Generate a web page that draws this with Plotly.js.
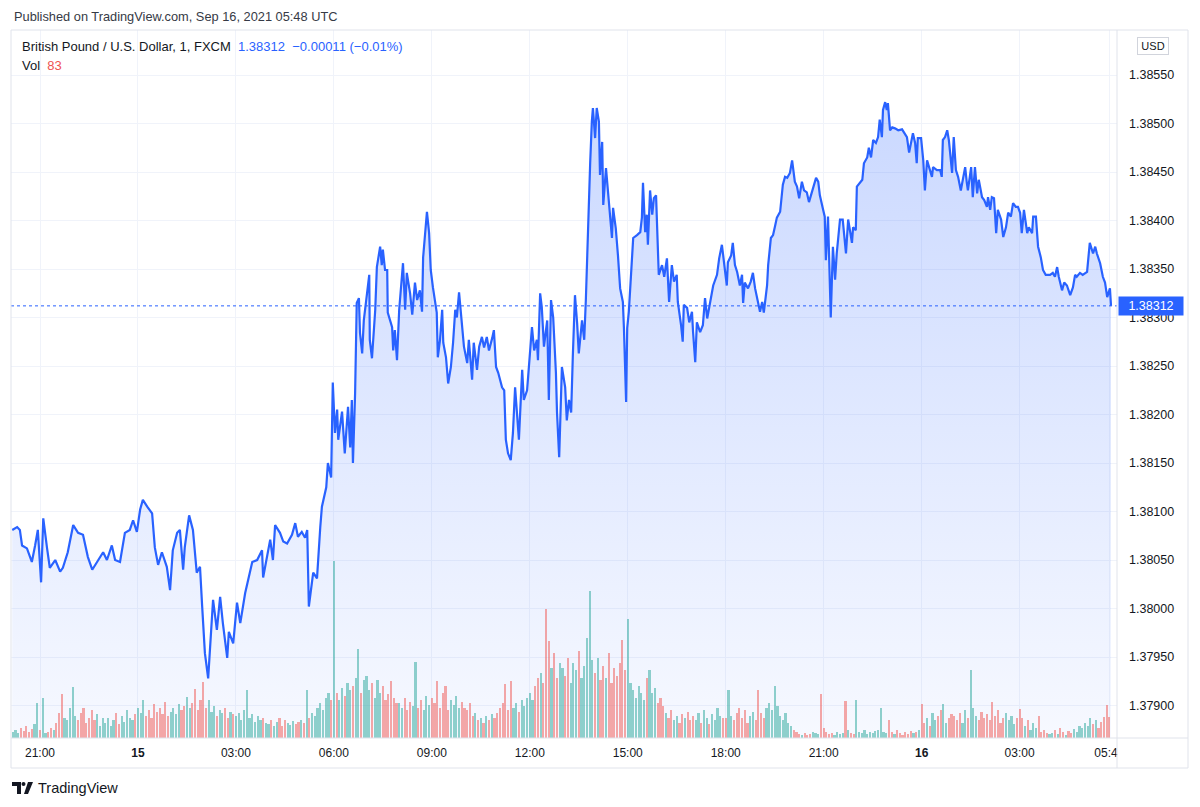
<!DOCTYPE html>
<html>
<head>
<meta charset="utf-8">
<script src="https://cdn.plot.ly/plotly-3.0.1.min.js"></script>
<style>
  html, body { margin: 0; padding: 0; background: #fff; }
  #chart { width: 1200px; height: 807px; }
</style>
</head>
<body>
<div id="chart"></div>
<script>
// GBP/USD 1-minute, FXCM — minutes counted from 2021-09-14 20:00 UTC
const baseTime = Date.UTC(2021, 8, 14, 20, 0);

const priceMinutes = [
  9, 18, 23, 27, 36, 45, 51, 56, 62, 66, 73, 78, 88, 97, 102, 111, 121, 130, 139, 148,
  156, 165, 176, 183, 192, 198, 207, 216, 225, 231, 238, 244, 249, 257, 266, 271, 277, 284, 293, 299,
  304, 312, 317, 323, 326, 334, 341, 348, 354, 358, 363, 369, 372, 378, 385, 391, 396, 404, 407, 415,
  422, 428, 437, 442, 450, 459, 468, 470, 477, 483, 488, 492, 501, 507, 514, 523, 529, 534, 541, 547,
  551, 554, 562, 569, 575, 578, 586, 589, 595, 598,
  602, 606, 608, 615, 620, 626, 630, 633, 635, 639, 642, 646, 648, 652, 655, 661, 665, 666, 670, 676,
  679, 685, 688, 690, 694, 698, 699, 707, 709, 712, 716, 720, 725, 727, 731, 734, 740, 744, 749, 753,
  758, 762, 764, 767, 771, 775, 778, 782, 786, 789, 791, 795, 799, 801, 806, 810, 815, 819, 823, 826,
  830, 835, 839, 845, 848, 854, 857, 863, 867, 872, 876, 881, 885, 891, 894, 898, 902, 909, 913, 916,
  920, 925, 929, 933, 936, 940, 946, 949, 955, 959, 964, 968, 973, 975, 979, 982, 986, 992, 995, 999,
  1003, 1008, 1010, 1014, 1019, 1025, 1028, 1032, 1036, 1039, 1043, 1047, 1050, 1056, 1060, 1063, 1067,
  1069, 1071, 1074, 1076, 1080, 1083, 1087, 1089, 1093, 1095, 1100, 1104, 1111, 1113, 1118, 1122, 1126, 1131, 1133, 1137,
  1139, 1142, 1148, 1150, 1157, 1163, 1166, 1168, 1172, 1175, 1177, 1181, 1185, 1188, 1192, 1194, 1197, 1203, 1207, 1212,
  1216, 1221, 1225, 1230, 1232, 1238, 1241, 1243, 1249, 1253, 1258, 1260, 1264, 1267, 1273, 1278, 1282, 1286, 1291, 1297,
  1304, 1308, 1313, 1317, 1322, 1324, 1330, 1333, 1337, 1341, 1346, 1350, 1352, 1355, 1361, 1366, 1370, 1374, 1377, 1383,
  1387, 1390, 1396, 1398, 1403, 1407, 1411, 1414, 1420, 1425, 1429, 1433, 1438, 1442, 1447, 1451, 1455, 1460, 1464, 1469,
  1473, 1477, 1480, 1486, 1490, 1493, 1499, 1502, 1504, 1508, 1513, 1517, 1521, 1524, 1530,
  1535, 1541, 1545, 1552, 1554, 1559, 1561, 1571, 1574, 1580, 1583, 1587, 1591, 1596, 1600, 1603, 1607, 1609, 1613, 1616,
  1618, 1622, 1626, 1631, 1637, 1644, 1648, 1653, 1657, 1662, 1664, 1668, 1671, 1673, 1679, 1683, 1686, 1690, 1695, 1699,
  1701, 1708, 1714, 1717, 1719, 1723, 1727, 1730, 1736, 1739, 1743, 1747, 1752, 1756, 1760, 1763, 1765, 1771, 1774, 1778,
  1782, 1785, 1791, 1795, 1800, 1802, 1806, 1809, 1813, 1817, 1820, 1826, 1830, 1835, 1839, 1844, 1848, 1853, 1857, 1861,
  1864, 1868, 1874, 1877, 1883, 1885, 1890, 1894, 1899, 1903, 1908, 1916, 1921, 1925, 1929, 1932, 1938, 1942, 1947, 1953,
  1958, 1962, 1965, 1971, 1976, 1984, 1986, 1989, 1995, 1999, 2002, 2008, 2013, 2017, 2021, 2026, 2028
];

const priceValues = [
  1.38081, 1.38084, 1.38081, 1.38065, 1.38062, 1.38048, 1.38065, 1.38081, 1.38027, 1.38093,
  1.38062, 1.38042, 1.38050, 1.38038, 1.38042, 1.38058, 1.38086, 1.38078, 1.38076, 1.38053,
  1.38040, 1.38048, 1.38058, 1.38050, 1.38065, 1.38050, 1.38048, 1.38078, 1.38081, 1.38091,
  1.38079, 1.38102, 1.38112, 1.38105, 1.38098, 1.38063, 1.38045, 1.38058, 1.38043, 1.38019,
  1.38060, 1.38078, 1.38081, 1.38040, 1.38063, 1.38096, 1.38081, 1.38037, 1.38043, 1.38002,
  1.37954, 1.37928, 1.37957, 1.38009, 1.37978, 1.38012, 1.37985, 1.37949, 1.37976, 1.37964,
  1.38006, 1.37985, 1.38016, 1.38029, 1.38048, 1.38050, 1.38060, 1.38032, 1.38053, 1.38071,
  1.38050, 1.38086, 1.38078, 1.38069, 1.38067, 1.38076, 1.38088, 1.38074, 1.38079, 1.38073,
  1.38081, 1.38002, 1.38037, 1.38031, 1.38084, 1.38105, 1.38125, 1.38150, 1.38135, 1.38233,
  1.38181, 1.38205, 1.38174, 1.38203, 1.38160, 1.38208, 1.38166, 1.38215, 1.38150, 1.38222,
  1.38315, 1.38320, 1.38284, 1.38263, 1.38297, 1.38328, 1.38344, 1.38277, 1.38258, 1.38308,
  1.38352, 1.38373, 1.38354, 1.38370, 1.38349, 1.38349, 1.38305, 1.38290, 1.38266, 1.38287,
  1.38256, 1.38308, 1.38339, 1.38356, 1.38308, 1.38346, 1.38325, 1.38303, 1.38336, 1.38318,
  1.38328, 1.38306, 1.38362, 1.38387, 1.38409, 1.38387, 1.38349, 1.38331, 1.38318, 1.38305,
  1.38259, 1.38277, 1.38308, 1.38274, 1.38259, 1.38232, 1.38249, 1.38274, 1.38308, 1.38300,
  1.38326, 1.38294, 1.38270, 1.38253, 1.38277, 1.38236, 1.38274, 1.38246, 1.38270, 1.38280,
  1.38269, 1.38280, 1.38266, 1.38279, 1.38287, 1.38249, 1.38243, 1.38228, 1.38225, 1.38174,
  1.38160, 1.38153, 1.38181, 1.38228, 1.38202, 1.38174, 1.38246, 1.38215, 1.38225, 1.38256,
  1.38290, 1.38266, 1.38277, 1.38256, 1.38325, 1.38311, 1.38270, 1.38297, 1.38215, 1.38318,
  1.38300, 1.38243, 1.38202, 1.38156, 1.38249, 1.38228, 1.38194, 1.38215, 1.38202, 1.38259,
  1.38323, 1.38294, 1.38263, 1.38297, 1.38277, 1.38318, 1.38387,
  1.38444, 1.38460, 1.38502, 1.38516, 1.38485, 1.38516, 1.38502, 1.38447, 1.38481, 1.38416,
  1.38454, 1.38426, 1.38382, 1.38413, 1.38392, 1.38364, 1.38330, 1.38316, 1.38289, 1.38213,
  1.38289, 1.38306, 1.38357, 1.38382, 1.38385, 1.38388, 1.38403, 1.38439, 1.38388, 1.38406,
  1.38375, 1.38431, 1.38406, 1.38423, 1.38426, 1.38385, 1.38344, 1.38354, 1.38342, 1.38361,
  1.38316, 1.38354, 1.38337, 1.38344, 1.38316, 1.38292, 1.38275, 1.38313, 1.38310, 1.38295,
  1.38306, 1.38285, 1.38254, 1.38295, 1.38285, 1.38292, 1.38320, 1.38299, 1.38316, 1.38333,
  1.38344, 1.38361, 1.38375, 1.38357, 1.38333, 1.38357, 1.38364, 1.38377, 1.38354, 1.38347,
  1.38333, 1.38344, 1.38315, 1.38336, 1.38330, 1.38337, 1.38346, 1.38330, 1.38323, 1.38306,
  1.38316, 1.38305, 1.38333, 1.38354, 1.38382, 1.38385, 1.38395, 1.38403, 1.38409, 1.38437,
  1.38445, 1.38444, 1.38449, 1.38462, 1.38440, 1.38435, 1.38423, 1.38440, 1.38431, 1.38429,
  1.38419, 1.38426, 1.38433, 1.38444, 1.38440, 1.38426, 1.38411, 1.38404, 1.38359, 1.38404,
  1.38300, 1.38373, 1.38339, 1.38366, 1.38401,
  1.38401, 1.38366, 1.38401, 1.38377, 1.38393, 1.38390, 1.38435, 1.38442, 1.38459, 1.38465,
  1.38475, 1.38465, 1.38483, 1.38480, 1.38486, 1.38504, 1.38486, 1.38514, 1.38522, 1.38514,
  1.38521, 1.38493, 1.38496, 1.38495, 1.38493, 1.38494, 1.38490, 1.38486, 1.38470, 1.38483,
  1.38490, 1.38480, 1.38459, 1.38485, 1.38485, 1.38462, 1.38431, 1.38462, 1.38452, 1.38445,
  1.38455, 1.38452, 1.38452, 1.38445, 1.38483, 1.38486, 1.38493, 1.38483, 1.38449, 1.38486,
  1.38452, 1.38445, 1.38431, 1.38445, 1.38455, 1.38439, 1.38431, 1.38455, 1.38424, 1.38455,
  1.38428, 1.38442, 1.38424, 1.38421, 1.38414, 1.38424, 1.38411, 1.38424, 1.38423, 1.38387,
  1.38411, 1.38401, 1.38383, 1.38393, 1.38408, 1.38404, 1.38418, 1.38414, 1.38414, 1.38408,
  1.38387, 1.38411, 1.38387, 1.38393, 1.38387, 1.38404, 1.38404, 1.38373, 1.38362, 1.38349,
  1.38344, 1.38344, 1.38346, 1.38342, 1.38352, 1.38342, 1.38328, 1.38336, 1.38333, 1.38323,
  1.38331, 1.38344, 1.38342, 1.38346, 1.38344, 1.38347, 1.38359, 1.38377, 1.38366, 1.38373,
  1.38366, 1.38356, 1.38342, 1.38336, 1.38321, 1.38330, 1.38312
];

// volume, sampled every 5 minutes starting 20:10
const volStart = 10;
const volStep = 5;
const volumes = [
  24, 32, 20, 40, 28, 48, 24, 36, 56, 140,
  32, 160, 20, 24, 40, 32, 60, 100, 176, 80, 72, 120,
  204, 88, 72, 100, 120, 60, 80, 112, 72, 96, 48, 80,
  60, 80, 48, 72, 100, 56, 88, 64, 112, 80, 72, 96,
  120, 100, 152, 88, 112, 80, 136, 104, 120, 96, 144, 88,
  104, 120, 96, 136, 112, 128, 164, 120, 140, 196, 112, 152,
  224, 120, 152, 104, 128, 88, 112, 100, 120, 80, 104, 96,
  88, 100, 72, 112, 192, 80, 96, 64, 88, 72, 80, 60,
  56, 72, 48, 64, 80, 48, 72, 60, 52, 68, 56, 64,
  72, 60, 192, 80, 100, 88, 120, 140, 112, 160, 180, 152,
  708, 180, 152, 200, 168, 220, 192, 208, 240, 356, 180, 232,
  248, 192, 220, 160, 232, 180, 208, 152, 176, 228, 160, 140,
  140, 120, 160, 112, 144, 128, 304, 120, 152, 112, 168, 132,
  160, 140, 228, 120, 180, 208, 112, 152, 132, 168, 120, 144,
  120, 112, 140, 88, 100, 72, 80, 60, 88, 72, 96, 80,
  100, 120, 140, 216, 112, 228, 120, 140, 104, 152, 128, 160,
  180, 152, 208, 240, 260, 220, 516, 388, 280, 340, 240, 300,
  280, 248, 320, 220, 300, 272, 348, 240, 288, 400, 588, 312,
  260, 320, 232, 288, 240, 340, 220, 280, 248, 300, 392, 272,
  476, 220, 192, 160, 208, 180, 152, 240, 272, 180, 200, 140,
  160, 128, 100, 80, 112, 72, 88, 60, 96, 80, 104, 72,
  88, 72, 100, 60, 112, 80, 56, 96, 72, 120, 88, 80,
  80, 192, 88, 72, 100, 120, 80, 112, 60, 88, 104, 72,
  192, 100, 80, 120, 140, 112, 208, 128, 88, 72, 100, 60,
  48, 32, 24, 16, 12, 20, 12, 16, 24, 20, 16, 176,
  40, 24, 16, 20, 12, 24, 16, 20, 148, 32, 20, 16,
  152, 24, 20, 32, 16, 24, 20, 28, 32, 120, 24, 20,
  72, 24, 16, 32, 20, 12, 24, 16, 28, 20, 24, 32,
  136, 60, 80, 48, 100, 72, 88, 112, 136, 60, 80, 96,
  88, 72, 100, 60, 112, 80, 272, 120, 88, 72, 104, 80,
  96, 72, 144, 88, 112, 60, 80, 100, 72, 88, 56, 80,
  116, 80, 48, 72, 32, 60, 40, 88, 24, 32, 20, 16,
  20, 32, 16, 40, 24, 12, 28, 20, 36, 24, 48, 40,
  60, 48, 80, 56, 72, 40, 64, 84, 132, 83
];

const priceTicks = [1.379, 1.3795, 1.38, 1.3805, 1.381, 1.3815, 1.382, 1.3825,
  1.383, 1.3835, 1.384, 1.3845, 1.385, 1.3855];
const timeTickMinutes = [60, 240, 420, 600, 780, 960, 1140, 1320, 1500, 1680, 1860, 2025];
const timeTickLabels = ['21:00', '<b>15</b>', '03:00', '06:00', '09:00', '12:00', '15:00',
  '18:00', '21:00', '<b>16</b>', '03:00', '05:45'];

if (priceMinutes.length !== priceValues.length) console.warn('price arrays differ', priceMinutes.length, priceValues.length);

const stamp = m => new Date(baseTime + m * 60000).toISOString().slice(0, 19).replace('T', ' ');

const up = 'rgba(38,166,154,0.5)';
const down = 'rgba(239,83,80,0.5)';
const blue = '#2962ff';
const font = 'Liberation Sans, Arial, sans-serif';

// bar colour: price just after t against price at least 5 minutes earlier
function volColor(t) {
  let after = priceMinutes.findIndex(m => m >= t);
  if (after < 0) after = priceMinutes.length - 1;
  let before = after;
  while (before > 0 && priceMinutes[before] > t - volStep) before--;
  return priceValues[after] >= priceValues[before] ? up : down;
}

const volMinutes = volumes.map((v, i) => volStart + i * volStep);
const lastPrice = priceValues[priceValues.length - 1];
const lastVol = volumes[volumes.length - 1];

// pixel helpers for decorations outside the plot (plot box: x 11-1117, y 30-738)
const PX = x => (x - 11) / 1106;
const PY = y => (738 - y) / 708;

const volumeTrace = {
  x: volMinutes.map(stamp),
  y: volumes,
  type: 'bar',
  yaxis: 'y2',
  width: 4 * 60000,
  marker: { color: volMinutes.map(volColor), line: { width: 0 } },
  hoverinfo: 'skip'
};

const priceTrace = {
  x: priceMinutes.map(stamp),
  y: priceValues,
  type: 'scatter',
  mode: 'lines',
  line: { color: blue, width: 2.2 },
  fill: 'tozeroy',
  fillgradient: {
    type: 'vertical',
    start: 1.37866,
    stop: 1.38596,
    colorscale: [[0, 'rgba(41,98,255,0.04)'], [1, 'rgba(41,98,255,0.27)']]
  },
  hoverinfo: 'skip'
};

const border = '#e0e3eb';
const logoPath = 'M ' + PX(12) + ' ' + PY(782) + ' L ' + PX(21) + ' ' + PY(782) + ' L ' + PX(21) + ' ' + PY(794) +
  ' L ' + PX(17) + ' ' + PY(794) + ' L ' + PX(17) + ' ' + PY(786) + ' L ' + PX(12) + ' ' + PY(786) + ' Z';
const logoSlash = 'M ' + PX(28) + ' ' + PY(782) + ' L ' + PX(33) + ' ' + PY(782) + ' L ' + PX(28) + ' ' + PY(794) +
  ' L ' + PX(24) + ' ' + PY(794) + ' Z';

const layout = {
  width: 1200,
  height: 807,
  margin: { l: 11, r: 83, t: 30, b: 69 },
  paper_bgcolor: '#ffffff',
  plot_bgcolor: '#ffffff',
  showlegend: false,
  hovermode: false,
  bargap: 0,
  xaxis: {
    type: 'date',
    range: [stamp(6.7), stamp(2039)],
    tickmode: 'array',
    tickvals: timeTickMinutes.map(stamp),
    ticktext: timeTickLabels,
    showgrid: true,
    gridcolor: '#f0f3fa',
    zeroline: false,
    showline: false,
    ticks: '',
    ticklabelstandoff: 6,
    tickfont: { family: font, size: 12, color: '#131722' },
    fixedrange: true
  },
  yaxis: {
    side: 'right',
    range: [1.378665, 1.385964],
    tickmode: 'array',
    tickvals: priceTicks,
    tickformat: '.5f',
    showgrid: true,
    gridcolor: '#f0f3fa',
    zeroline: false,
    showline: false,
    ticks: '',
    ticklabelstandoff: 11,
    tickfont: { family: font, size: 12.5, color: '#131722' },
    fixedrange: true
  },
  yaxis2: {
    overlaying: 'y',
    range: [0, 2832],
    visible: false,
    fixedrange: true
  },
  shapes: [
    { type: 'line', xref: 'paper', yref: 'y', x0: 0, x1: 1, y0: lastPrice, y1: lastPrice,
      line: { color: blue, width: 1, dash: 'dot' }, layer: 'above' },
    { type: 'rect', xref: 'paper', yref: 'paper', x0: PX(1117.5), x1: PX(1187.5), y0: PY(767.5), y1: PY(738.5),
      fillcolor: '#ffffff', line: { width: 0 }, layer: 'above' },
    { type: 'rect', xref: 'paper', yref: 'paper', x0: PX(11), x1: PX(1188), y0: PY(768), y1: PY(30),
      line: { color: border, width: 1 }, layer: 'above' },
    { type: 'line', xref: 'paper', yref: 'paper', x0: PX(1117), x1: PX(1117), y0: PY(768), y1: PY(30),
      line: { color: border, width: 1 }, layer: 'above' },
    { type: 'line', xref: 'paper', yref: 'paper', x0: PX(11), x1: PX(1188), y0: PY(738), y1: PY(738),
      line: { color: border, width: 1 }, layer: 'above' },
    { type: 'path', xref: 'paper', yref: 'paper', path: logoPath, fillcolor: '#131722', line: { width: 0 } },
    { type: 'circle', xref: 'paper', yref: 'paper', x0: PX(21.5), x1: PX(25.5), y0: PY(786), y1: PY(782),
      fillcolor: '#131722', line: { width: 0 } },
    { type: 'path', xref: 'paper', yref: 'paper', path: logoSlash, fillcolor: '#131722', line: { width: 0 } }
  ],
  annotations: [
    { xref: 'paper', yref: 'paper', x: PX(12), y: PY(17), xanchor: 'left', yanchor: 'middle', showarrow: false,
      text: 'Published on TradingView.com, Sep 16, 2021 05:48 UTC',
      font: { family: font, size: 12.8, color: '#363a45' } },
    { xref: 'paper', yref: 'paper', x: PX(20), y: PY(47), xanchor: 'left', yanchor: 'middle', showarrow: false,
      text: 'British Pound / U.S. Dollar, 1, FXCM&nbsp;&nbsp;<span style="color:' + blue + '">' +
        lastPrice.toFixed(5) + '&nbsp;&nbsp;−0.00011 (−0.01%)</span>',
      font: { family: font, size: 13, color: '#131722' } },
    { xref: 'paper', yref: 'paper', x: PX(20), y: PY(65), xanchor: 'left', yanchor: 'middle', showarrow: false,
      text: 'Vol&nbsp;&nbsp;<span style="color:#ef5350">' + lastVol + '</span>',
      font: { family: font, size: 13, color: '#131722' } },
    { xref: 'paper', yref: 'paper', x: PX(1153), y: PY(46), xanchor: 'center', yanchor: 'middle', showarrow: false,
      text: 'USD', width: 26, borderpad: 2, bordercolor: '#d1d4dc', borderwidth: 1,
      font: { family: font, size: 11, color: '#131722' } },
    { xref: 'paper', yref: 'y', x: PX(1118), y: lastPrice, xanchor: 'left', yanchor: 'middle', showarrow: false,
      text: lastPrice.toFixed(5), width: 58, height: 12, borderpad: 3, bgcolor: blue,
      font: { family: font, size: 12.5, color: '#ffffff' } },
    { xref: 'paper', yref: 'paper', x: PX(36), y: PY(788), xanchor: 'left', yanchor: 'middle', showarrow: false,
      text: 'TradingView', font: { family: font, size: 14.5, color: '#131722' } }
  ]
};

Plotly.newPlot('chart', [volumeTrace, priceTrace], layout, { displayModeBar: false, staticPlot: true });
</script>
</body>
</html>
